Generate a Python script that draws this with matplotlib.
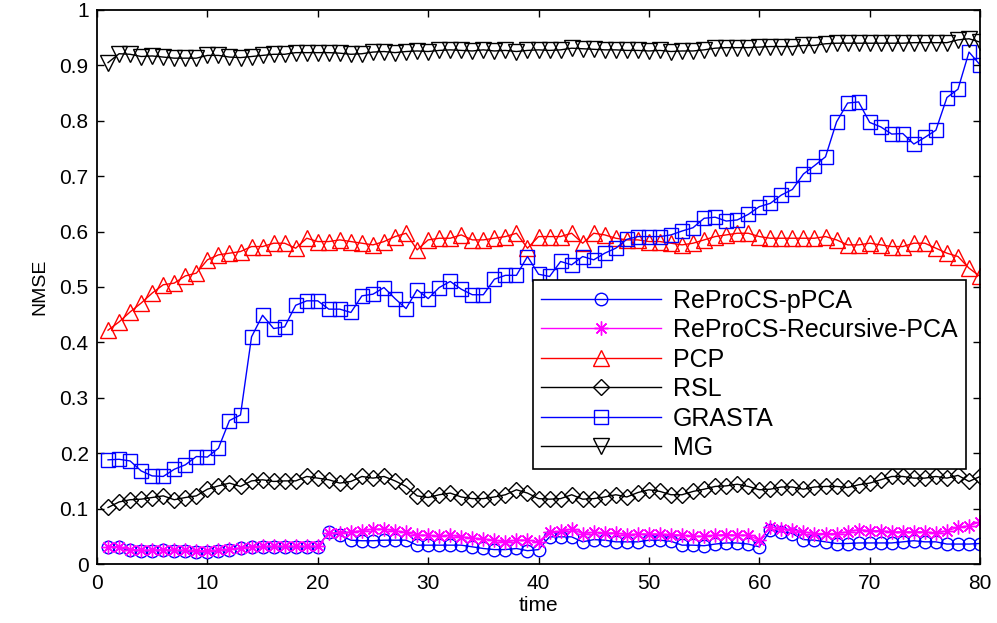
import numpy as np
import matplotlib
matplotlib.use('Agg')
import matplotlib.pyplot as plt

plt.rcParams['font.family'] = ['Liberation Sans', 'DejaVu Sans']

# time steps
t = np.arange(1, 81)

# NMSE per method
pPCA = [0.031, 0.031, 0.025, 0.024, 0.024, 0.025, 0.024, 0.024, 0.022, 0.022,
        0.024, 0.026, 0.028, 0.031, 0.031, 0.031, 0.031, 0.031, 0.031, 0.031,
        0.057, 0.052, 0.043, 0.042, 0.042, 0.043, 0.043, 0.043, 0.034, 0.034,
        0.034, 0.034, 0.034, 0.031, 0.028, 0.026, 0.026, 0.028, 0.024, 0.026,
        0.049, 0.049, 0.049, 0.040, 0.044, 0.043, 0.040, 0.040, 0.040, 0.043,
        0.043, 0.041, 0.034, 0.034, 0.033, 0.036, 0.038, 0.038, 0.036, 0.031,
        0.061, 0.058, 0.055, 0.044, 0.043, 0.040, 0.037, 0.037, 0.038, 0.038,
        0.038, 0.038, 0.040, 0.042, 0.040, 0.040, 0.036, 0.036, 0.036, 0.037]

recursive = [0.031, 0.031, 0.026, 0.025, 0.025, 0.026, 0.025, 0.025, 0.024, 0.024,
             0.025, 0.027, 0.029, 0.031, 0.032, 0.032, 0.032, 0.032, 0.032, 0.032,
             0.056, 0.056, 0.058, 0.060, 0.063, 0.063, 0.060, 0.057, 0.052, 0.052,
             0.050, 0.052, 0.049, 0.047, 0.045, 0.043, 0.040, 0.043, 0.043, 0.040,
             0.058, 0.059, 0.063, 0.055, 0.057, 0.056, 0.056, 0.053, 0.054, 0.054,
             0.054, 0.053, 0.052, 0.050, 0.050, 0.052, 0.053, 0.052, 0.052, 0.043,
             0.067, 0.064, 0.061, 0.058, 0.055, 0.055, 0.055, 0.058, 0.062, 0.060,
             0.060, 0.058, 0.058, 0.058, 0.058, 0.056, 0.060, 0.066, 0.069, 0.076]

pcp = [0.422, 0.437, 0.455, 0.471, 0.489, 0.504, 0.507, 0.520, 0.525, 0.549,
       0.558, 0.561, 0.564, 0.573, 0.573, 0.579, 0.579, 0.570, 0.588, 0.582,
       0.582, 0.585, 0.582, 0.579, 0.576, 0.582, 0.591, 0.597, 0.567, 0.585,
       0.588, 0.588, 0.594, 0.585, 0.585, 0.588, 0.591, 0.597, 0.570, 0.591,
       0.591, 0.591, 0.597, 0.579, 0.597, 0.594, 0.588, 0.585, 0.585, 0.582,
       0.582, 0.579, 0.576, 0.579, 0.585, 0.591, 0.594, 0.597, 0.597, 0.591,
       0.588, 0.588, 0.588, 0.588, 0.588, 0.591, 0.585, 0.576, 0.576, 0.579,
       0.576, 0.573, 0.573, 0.579, 0.579, 0.570, 0.561, 0.555, 0.534, 0.519]

rsl = [0.102, 0.112, 0.116, 0.117, 0.120, 0.123, 0.116, 0.120, 0.123, 0.135,
       0.141, 0.146, 0.140, 0.150, 0.152, 0.149, 0.150, 0.150, 0.158, 0.155,
       0.152, 0.146, 0.149, 0.158, 0.155, 0.158, 0.150, 0.140, 0.123, 0.120,
       0.125, 0.128, 0.121, 0.118, 0.118, 0.121, 0.125, 0.134, 0.128, 0.118,
       0.117, 0.118, 0.125, 0.117, 0.118, 0.121, 0.125, 0.121, 0.129, 0.134,
       0.131, 0.125, 0.125, 0.131, 0.135, 0.140, 0.141, 0.144, 0.140, 0.134,
       0.135, 0.139, 0.139, 0.135, 0.139, 0.140, 0.140, 0.138, 0.143, 0.146,
       0.152, 0.158, 0.158, 0.155, 0.155, 0.158, 0.155, 0.160, 0.149, 0.158]

grasta = [0.188, 0.189, 0.186, 0.168, 0.159, 0.158, 0.171, 0.179, 0.194, 0.193,
          0.209, 0.259, 0.269, 0.410, 0.449, 0.425, 0.428, 0.467, 0.475, 0.475,
          0.460, 0.460, 0.454, 0.484, 0.487, 0.499, 0.479, 0.461, 0.495, 0.479,
          0.499, 0.510, 0.496, 0.486, 0.486, 0.514, 0.521, 0.521, 0.555, 0.523,
          0.519, 0.546, 0.540, 0.555, 0.549, 0.561, 0.570, 0.586, 0.591, 0.591,
          0.591, 0.594, 0.601, 0.607, 0.624, 0.626, 0.619, 0.621, 0.631, 0.645,
          0.651, 0.666, 0.676, 0.704, 0.719, 0.735, 0.798, 0.832, 0.834, 0.797,
          0.789, 0.776, 0.777, 0.758, 0.770, 0.783, 0.842, 0.857, 0.924, 0.901]

mg = [0.905, 0.921, 0.920, 0.916, 0.917, 0.915, 0.913, 0.913, 0.913, 0.918,
      0.918, 0.915, 0.914, 0.916, 0.918, 0.920, 0.920, 0.923, 0.923, 0.923,
      0.923, 0.922, 0.920, 0.921, 0.924, 0.925, 0.923, 0.925, 0.926, 0.925,
      0.927, 0.928, 0.927, 0.926, 0.928, 0.926, 0.927, 0.925, 0.927, 0.928,
      0.927, 0.928, 0.931, 0.930, 0.929, 0.928, 0.928, 0.927, 0.927, 0.926,
      0.927, 0.925, 0.926, 0.926, 0.928, 0.931, 0.932, 0.932, 0.932, 0.933,
      0.934, 0.934, 0.934, 0.936, 0.936, 0.939, 0.940, 0.940, 0.940, 0.940,
      0.940, 0.940, 0.940, 0.941, 0.941, 0.941, 0.941, 0.946, 0.948, 0.942]

labels = ['ReProCS-pPCA', 'ReProCS-Recursive-PCA', 'PCP', 'RSL', 'GRASTA', 'MG']

fig = plt.figure(figsize=(9.97, 6.23), dpi=100)
ax = fig.add_axes([0.0973, 0.0947, 0.8857, 0.8893])

ax.plot(t, pPCA, color='#0000ff', marker='o', mfc='none', ms=9, lw=1, label=labels[0])
ax.plot(t, recursive, color='#ff00ff', marker=(8, 2, 0), ms=10, mew=1, lw=1, label=labels[1])
ax.plot(t, pcp, color='#ff0000', marker='^', mfc='none', ms=11, lw=1, label=labels[2])
ax.plot(t, rsl, color='black', marker='D', mfc='none', ms=8.5, lw=1, label=labels[3])
ax.plot(t, grasta, color='#0000ff', marker='s', mfc='none', ms=9.5, lw=1, label=labels[4])
ax.plot(t, mg, color='black', marker='v', mfc='none', ms=11, lw=1, label=labels[5])

ax.set_xlim(0, 80)
ax.set_ylim(0, 1)
ax.set_xticks(np.arange(0, 81, 10))
ax.set_yticks(np.arange(0, 1.01, 0.1))
ax.set_yticklabels(['0', '0.1', '0.2', '0.3', '0.4', '0.5', '0.6', '0.7', '0.8', '0.9', '1'])
ax.tick_params(direction='in', top=True, right=True, length=5, width=1)
ax.tick_params(axis='x', labelsize=15, pad=7)
ax.tick_params(axis='y', labelsize=15, pad=6)
for s in ax.spines.values():
    s.set_linewidth(1.3)

ax.set_xlabel('time', fontsize=15, labelpad=2)
ax.set_ylabel('NMSE', fontsize=14, labelpad=8)

leg = ax.legend(loc='upper right', bbox_to_anchor=(0.984, 0.513), borderaxespad=0,
                fontsize=18, handlelength=4.8, handletextpad=0.45, labelspacing=0.22,
                fancybox=False, framealpha=1, edgecolor='black', borderpad=0.35)
leg.get_frame().set_linewidth(1.2)

fig.savefig('out.png', dpi=100)
